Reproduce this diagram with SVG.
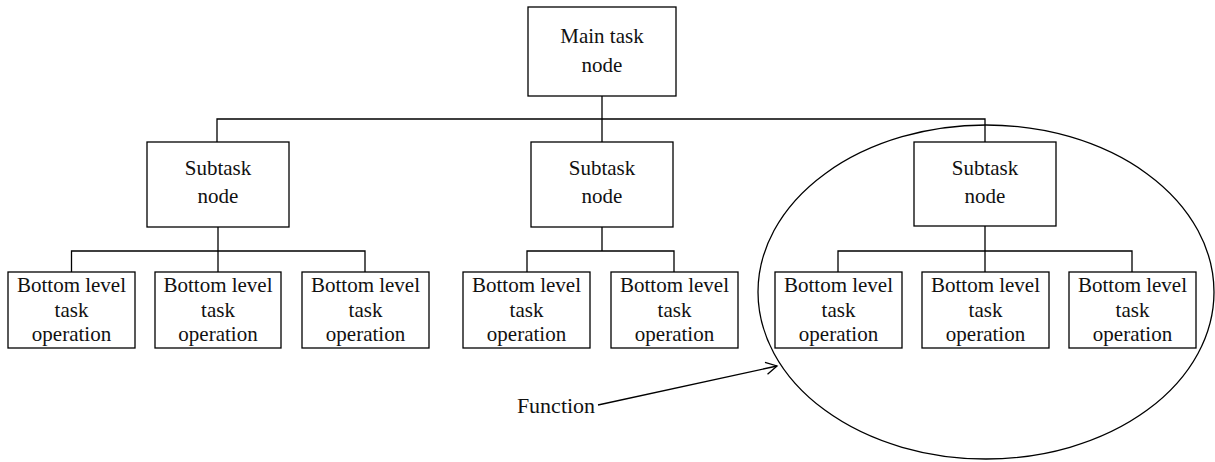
<svg xmlns="http://www.w3.org/2000/svg" width="1215" height="462" viewBox="0 0 1215 462">
<style>
.box{fill:#fff;stroke:#000;stroke-width:1.3}
.ln{fill:none;stroke:#000;stroke-width:1.3}
text{font-family:"Liberation Serif","Times New Roman",serif;font-size:21px;fill:#111;text-anchor:middle}
</style>
<defs>
<marker id="arr" markerWidth="14" markerHeight="14" refX="12" refY="7" orient="auto" markerUnits="userSpaceOnUse">
<path d="M1,1 L12,7 L1,13" fill="none" stroke="#000" stroke-width="1.3"/>
</marker>
</defs>
<rect width="1215" height="462" fill="#fff"/>
<ellipse cx="986" cy="292" rx="228" ry="167" class="ln"/>
<g id="connectors">
<path class="ln" d="M602,96 V142 M217,142 V119 H985 V142"/>
<path class="ln" d="M218,227 V272 M71.5,272 V251 H365 V272"/>
<path class="ln" d="M602,227 V251 M527,272 V251 H674 V272"/>
<path class="ln" d="M985,226 V272 M838,272 V251 H1132 V272"/>
<path class="ln" d="M598,405 L777,366" marker-end="url(#arr)"/>
</g>
<g id="main"><rect class="box" x="528" y="7" width="148" height="89"/><text x="602" y="43">Main task</text><text x="602" y="72">node</text></g>
<g id="sub1"><rect class="box" x="147" y="142" width="142" height="85"/><text x="218" y="175">Subtask</text><text x="218" y="203">node</text></g>
<g id="sub2"><rect class="box" x="531" y="142" width="142" height="85"/><text x="602" y="175">Subtask</text><text x="602" y="203">node</text></g>
<g id="sub3"><rect class="box" x="914" y="142" width="142" height="84"/><text x="985" y="175">Subtask</text><text x="985" y="203">node</text></g>
<g id="b1"><rect class="box" x="8" y="272" width="127" height="76"/><text x="71.5" y="291.5">Bottom level</text><text x="71.5" y="316.5">task</text><text x="71.5" y="340.5">operation</text></g>
<g id="b2"><rect class="box" x="155" y="272" width="126" height="76"/><text x="218" y="291.5">Bottom level</text><text x="218" y="316.5">task</text><text x="218" y="340.5">operation</text></g>
<g id="b3"><rect class="box" x="302" y="272" width="127" height="76"/><text x="365.5" y="291.5">Bottom level</text><text x="365.5" y="316.5">task</text><text x="365.5" y="340.5">operation</text></g>
<g id="b4"><rect class="box" x="463" y="272" width="127" height="76"/><text x="526.5" y="291.5">Bottom level</text><text x="526.5" y="316.5">task</text><text x="526.5" y="340.5">operation</text></g>
<g id="b5"><rect class="box" x="611" y="272" width="127" height="76"/><text x="674.5" y="291.5">Bottom level</text><text x="674.5" y="316.5">task</text><text x="674.5" y="340.5">operation</text></g>
<g id="b6"><rect class="box" x="775" y="272" width="127" height="76"/><text x="838.5" y="291.5">Bottom level</text><text x="838.5" y="316.5">task</text><text x="838.5" y="340.5">operation</text></g>
<g id="b7"><rect class="box" x="922" y="272" width="127" height="76"/><text x="985.5" y="291.5">Bottom level</text><text x="985.5" y="316.5">task</text><text x="985.5" y="340.5">operation</text></g>
<g id="b8"><rect class="box" x="1069" y="272" width="127" height="76"/><text x="1132.5" y="291.5">Bottom level</text><text x="1132.5" y="316.5">task</text><text x="1132.5" y="340.5">operation</text></g>
<g id="function"><text x="556" y="413" style="font-size:22px">Function</text></g>
</svg>
